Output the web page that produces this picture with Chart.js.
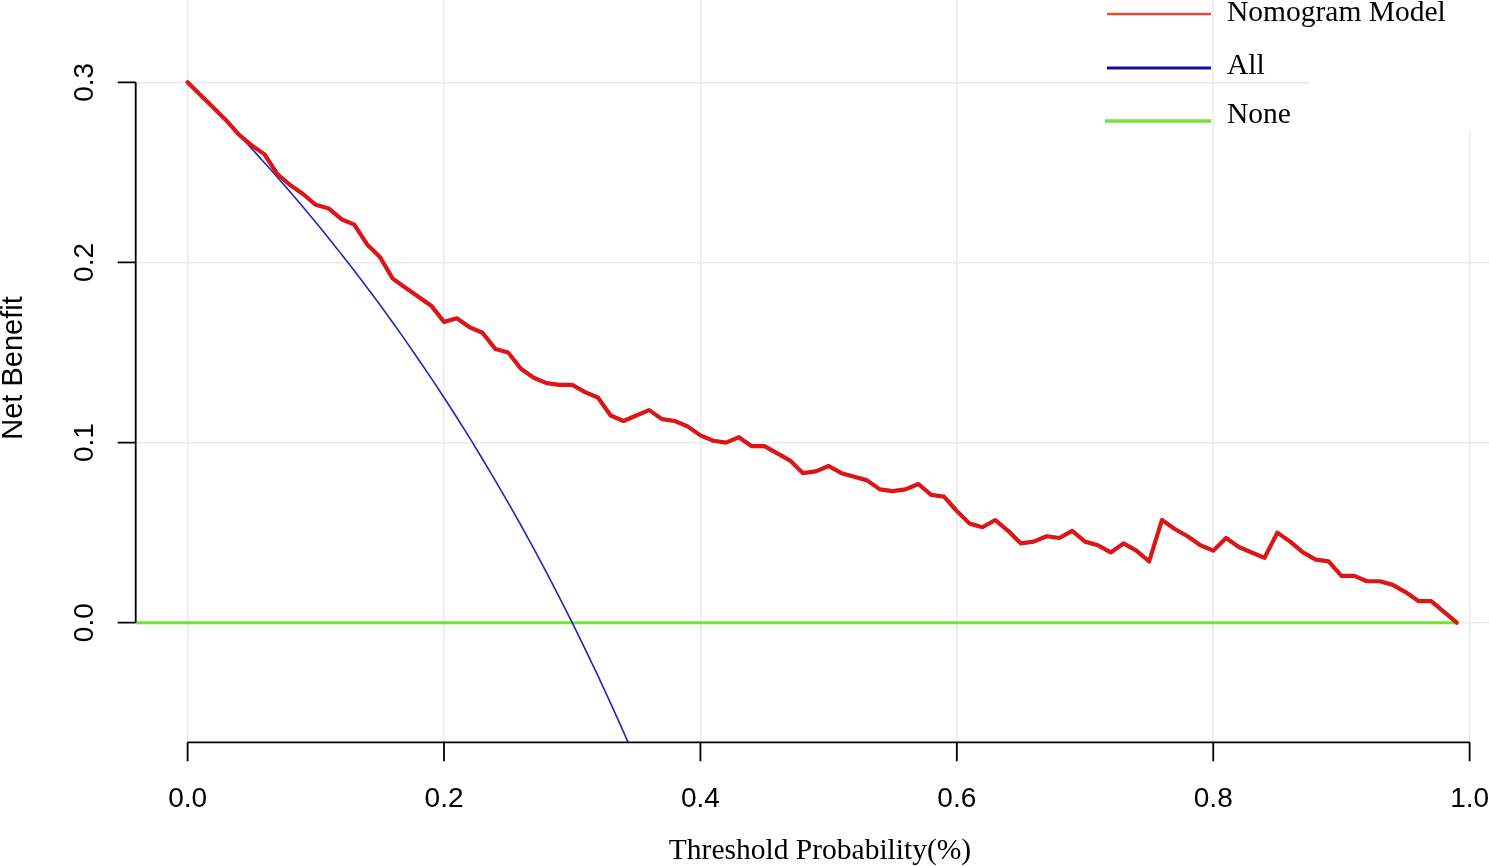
<!DOCTYPE html>
<html>
<head>
<meta charset="utf-8">
<title>Decision curve</title>
<script src="https://cdn.jsdelivr.net/npm/chart.js@4.4.1/dist/chart.umd.min.js"></script>
<style>
  html, body { margin: 0; padding: 0; background: #fff; }
  #wrap { width: 1489px; height: 866px; }
</style>
</head>
<body>
<div id="wrap"><canvas id="dca" width="1489" height="866"></canvas></div>
<script>
// ----- DATA -----
const thresholds = [
  0.00, 0.01, 0.02, 0.03, 0.04, 0.05, 0.06, 0.07, 0.08, 0.09,
  0.10, 0.11, 0.12, 0.13, 0.14, 0.15, 0.16, 0.17, 0.18, 0.19,
  0.20, 0.21, 0.22, 0.23, 0.24, 0.25, 0.26, 0.27, 0.28, 0.29,
  0.30, 0.31, 0.32, 0.33, 0.34, 0.35, 0.36, 0.37, 0.38, 0.39,
  0.40, 0.41, 0.42, 0.43, 0.44, 0.45, 0.46, 0.47, 0.48, 0.49,
  0.50, 0.51, 0.52, 0.53, 0.54, 0.55, 0.56, 0.57, 0.58, 0.59,
  0.60, 0.61, 0.62, 0.63, 0.64, 0.65, 0.66, 0.67, 0.68, 0.69,
  0.70, 0.71, 0.72, 0.73, 0.74, 0.75, 0.76, 0.77, 0.78, 0.79,
  0.80, 0.81, 0.82, 0.83, 0.84, 0.85, 0.86, 0.87, 0.88, 0.89,
  0.90, 0.91, 0.92, 0.93, 0.94, 0.95, 0.96, 0.97, 0.98, 0.99
];

// net benefit of the nomogram (one value per threshold)
const nomogramNB = [
  0.300, 0.293, 0.286, 0.279, 0.271, 0.265, 0.260, 0.249, 0.243, 0.238,
  0.232, 0.230, 0.224, 0.221, 0.210, 0.203, 0.191, 0.186, 0.181, 0.176,
  0.167, 0.169, 0.164, 0.161, 0.152, 0.150, 0.141, 0.136, 0.133, 0.132,
  0.132, 0.128, 0.125, 0.115, 0.112, 0.115, 0.118, 0.113, 0.112, 0.109,
  0.104, 0.101, 0.100, 0.103, 0.098, 0.098, 0.094, 0.090, 0.083, 0.084,
  0.087, 0.083, 0.081, 0.079, 0.074, 0.073, 0.074, 0.077, 0.071, 0.070,
  0.062, 0.055, 0.053, 0.057, 0.051, 0.044, 0.045, 0.048, 0.047, 0.051,
  0.045, 0.043, 0.039, 0.044, 0.040, 0.034, 0.057, 0.052, 0.048, 0.043,
  0.040, 0.047, 0.042, 0.039, 0.036, 0.050, 0.045, 0.039, 0.035, 0.034,
  0.026, 0.026, 0.023, 0.023, 0.021, 0.017, 0.012, 0.012, 0.006, 0.000
];

// treat-all curve, read until it leaves the plot (thresholds 0.00 .. 0.35)
const allNB = [
  0.300, 0.2929, 0.2857, 0.2784, 0.2708, 0.2632, 0.2553, 0.2473, 0.2391, 0.2308,
  0.2222, 0.2135, 0.2045, 0.1954, 0.1860, 0.1765, 0.1667, 0.1566, 0.1463, 0.1358,
  0.1250, 0.1139, 0.1026, 0.0909, 0.0789, 0.0667, 0.0541, 0.0411, 0.0278, 0.0141,
  0.0000, -0.0145, -0.0294, -0.0448, -0.0606, -0.0769
];

// treat-none line
const noneX = [-0.04, 0.99];
const noneNB = [0, 0];

const seriesNames = ["Nomogram Model", "All", "None"];
const xTicks = [0.0, 0.2, 0.4, 0.6, 0.8, 1.0];
const yTicks = [0.0, 0.1, 0.2, 0.3];

// ----- HELPERS -----
const toPoints = (xs, ys) => ys.map((y, i) => ({ x: xs[i], y: y }));

const SANS = '"Liberation Sans", Arial, sans-serif';
const SERIF = '"Liberation Serif", "Times New Roman", serif';

// legend line colours differ a little from the plotted lines in the original
const legendStyle = [
  { color: "#dc5238", width: 2.5 },
  { color: "#12129e", width: 3 },
  { color: "#72e23e", width: 3.5 }
];

// R-style axes, rotated labels, titles and legend
const rAxes = {
  id: "rAxes",
  beforeDatasetsDraw(chart) {
    // legend background that hides part of the grid
    const c = chart.ctx;
    c.save();
    c.fillStyle = "#ffffff";
    c.fillRect(1310, 0, 179, 131);
    c.restore();
  },
  afterDraw(chart) {
    const c = chart.ctx;
    const xs = chart.scales.x;
    const ys = chart.scales.y;
    const area = chart.chartArea;

    c.save();
    c.strokeStyle = "#000";
    c.fillStyle = "#000";
    c.lineWidth = 1.8;

    // y axis
    const yAxisX = area.left;
    c.beginPath();
    c.moveTo(yAxisX, ys.getPixelForValue(yTicks[0]));
    c.lineTo(yAxisX, ys.getPixelForValue(yTicks[yTicks.length - 1]));
    yTicks.forEach(v => {
      const py = ys.getPixelForValue(v);
      c.moveTo(yAxisX, py);
      c.lineTo(yAxisX - 18, py);
    });
    c.stroke();

    c.font = "28px " + SANS;
    c.textAlign = "center";
    c.textBaseline = "alphabetic";
    yTicks.forEach(v => {
      const py = ys.getPixelForValue(v);
      c.save();
      c.translate(93, py);
      c.rotate(-Math.PI / 2);
      c.fillText(v.toFixed(1), 0, 0);
      c.restore();
    });

    // x axis
    const xAxisY = area.bottom;
    c.beginPath();
    c.moveTo(xs.getPixelForValue(xTicks[0]), xAxisY);
    c.lineTo(xs.getPixelForValue(xTicks[xTicks.length - 1]), xAxisY);
    xTicks.forEach(v => {
      const px = xs.getPixelForValue(v);
      c.moveTo(px, xAxisY);
      c.lineTo(px, xAxisY + 19);
    });
    c.stroke();

    xTicks.forEach(v => {
      c.fillText(v.toFixed(1), xs.getPixelForValue(v), 807);
    });

    // axis titles
    c.save();
    c.translate(22, 368);
    c.rotate(-Math.PI / 2);
    c.font = "29px " + SANS;
    c.fillText("Net Benefit", 0, 0);
    c.restore();

    c.font = "29.5px " + SERIF;
    c.fillText("Threshold Probability(%)", 820, 859);

    // legend
    const rows = [
      { lineY: 14, textY: 21, x0: 1107 },
      { lineY: 68, textY: 74, x0: 1107 },
      { lineY: 121, textY: 123, x0: 1105 }
    ];
    c.textAlign = "left";
    seriesNames.forEach((name, i) => {
      c.beginPath();
      c.strokeStyle = legendStyle[i].color;
      c.lineWidth = legendStyle[i].width;
      c.moveTo(rows[i].x0, rows[i].lineY);
      c.lineTo(1211, rows[i].lineY);
      c.stroke();
      c.fillStyle = "#000";
      c.fillText(name, 1227, rows[i].textY);
    });

    c.restore();
  }
};

// ----- CHART -----
const ctx = document.getElementById("dca").getContext("2d");

const chart = new Chart(ctx, {
  type: "line",
  data: {
    datasets: [
      {
        label: seriesNames[0],
        data: toPoints(thresholds, nomogramNB),
        borderColor: "#dc1616",
        borderWidth: 4.2,
        pointRadius: 0,
        tension: 0,
        borderJoinStyle: "round",
        borderCapStyle: "round"
      },
      {
        label: seriesNames[1],
        data: toPoints(thresholds, allNB),
        borderColor: "#2424b8",
        borderWidth: 1.6,
        pointRadius: 0,
        cubicInterpolationMode: "monotone"
      },
      {
        label: seriesNames[2],
        data: toPoints(noneX, noneNB),
        borderColor: "#6ee632",
        borderWidth: 3,
        pointRadius: 0,
        tension: 0
      }
    ]
  },
  options: {
    responsive: false,
    animation: false,
    devicePixelRatio: 1,
    layout: { padding: { left: 0, right: 0, top: 0, bottom: 0 } },
    plugins: {
      legend: { display: false },
      tooltip: { enabled: false }
    },
    scales: {
      x: {
        type: "linear",
        min: -0.0405,
        max: 1.0151,
        afterBuildTicks: s => { s.ticks = xTicks.map(v => ({ value: v })); },
        afterFit: s => { s.height = 123.7; },
        ticks: { display: false },
        border: { display: false },
        grid: { color: "#ebebeb", lineWidth: 1.6, drawTicks: false }
      },
      y: {
        type: "linear",
        min: -0.0664,
        max: 0.3457,
        afterBuildTicks: s => { s.ticks = yTicks.map(v => ({ value: v })); },
        afterFit: s => { s.width = 135.7; },
        ticks: { display: false },
        border: { display: false },
        grid: { color: "#ebebeb", lineWidth: 1.6, drawTicks: false }
      }
    }
  },
  plugins: [rAxes]
});
</script>
</body>
</html>
